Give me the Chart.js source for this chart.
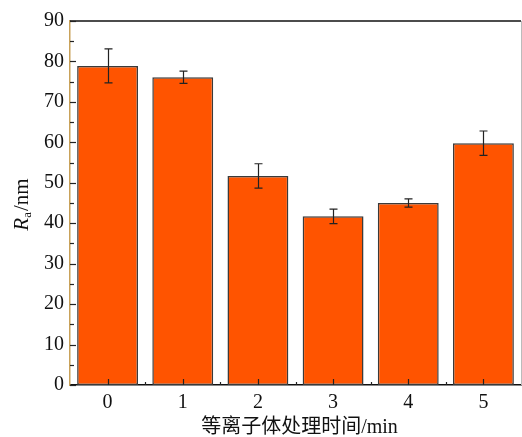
<!DOCTYPE html>
<html>
<head>
<meta charset="utf-8">
<script src="https://cdn.jsdelivr.net/npm/chart.js@4/dist/chart.umd.min.js"></script>
<style>
  html, body { margin: 0; padding: 0; background: #fff; }
  #wrap { width: 522px; height: 437px; }
</style>
</head>
<body>
<div id="wrap"><canvas id="chartRa" width="522" height="437"></canvas></div>
<script>
  var categories = ['0', '1', '2', '3', '4', '5'];
  var raValues = [78.9, 76.1, 51.7, 41.7, 45.0, 59.8];
  var raErrors = [4.2, 1.5, 3.0, 1.8, 1.0, 3.0];
  var yMin = 0, yMax = 90, yStep = 10;

  var serif = "'Liberation Serif', 'Times New Roman', 'Noto Sans CJK SC', serif";

  /* inward ticks, frame, error bars and titles */
  var decorPlugin = {
    id: 'decor',
    afterDatasetsDraw: function(chart) {
      var ctx = chart.ctx;
      var area = chart.chartArea;
      var ys = chart.scales.y;
      var meta = chart.getDatasetMeta(0);

      /* error bars */
      ctx.save();
      ctx.strokeStyle = '#222';
      ctx.lineWidth = 1.2;
      meta.data.forEach(function(bar, i) {
        var x = Math.round(bar.x) + 0.5;
        var top = ys.getPixelForValue(raValues[i] + raErrors[i]);
        var bot = ys.getPixelForValue(raValues[i] - raErrors[i]);
        ctx.beginPath();
        ctx.moveTo(x, top); ctx.lineTo(x, bot);
        ctx.moveTo(x - 4, top); ctx.lineTo(x + 4, top);
        ctx.moveTo(x - 4, bot); ctx.lineTo(x + 4, bot);
        ctx.stroke();
      });
      ctx.restore();

      /* frame: top black, right light gray */
      ctx.save();
      ctx.lineWidth = 1.5;
      ctx.strokeStyle = '#111';
      ctx.beginPath();
      ctx.moveTo(area.left, area.top); ctx.lineTo(area.right, area.top);
      ctx.stroke();
      ctx.strokeStyle = '#bbb';
      ctx.lineWidth = 1;
      ctx.beginPath();
      ctx.moveTo(area.right + 0.5, area.top); ctx.lineTo(area.right + 0.5, area.bottom);
      ctx.stroke();

      /* y ticks, inward */
      ctx.strokeStyle = '#222';
      ctx.lineWidth = 1.2;
      for (var v = yMin; v <= yMax; v += yStep / 2) {
        var y = Math.round(ys.getPixelForValue(v)) + 0.5;
        var len = (v % yStep === 0) ? 6 : 4;
        ctx.beginPath();
        ctx.moveTo(area.left, y); ctx.lineTo(area.left + len, y);
        ctx.stroke();
      }

      /* x ticks, inward */
      meta.data.forEach(function(bar, i) {
        var x = Math.round(bar.x) + 0.5;
        ctx.beginPath();
        ctx.moveTo(x, area.bottom); ctx.lineTo(x, area.bottom - 6);
        ctx.stroke();
        if (i < meta.data.length - 1) {
          var xm = Math.round((bar.x + meta.data[i + 1].x) / 2) + 0.5;
          ctx.beginPath();
          ctx.moveTo(xm, area.bottom); ctx.lineTo(xm, area.bottom - 3);
          ctx.stroke();
        }
      });
      ctx.restore();

      /* x title */
      ctx.save();
      ctx.fillStyle = '#111';
      ctx.font = '20px ' + serif;
      ctx.textAlign = 'center';
      ctx.textBaseline = 'middle';
      ctx.fillText('等离子体处理时间/min', (area.left + area.right) / 2 + 4, 428);
      ctx.restore();

      /* y title: R (italic) a (subscript) /nm */
      ctx.save();
      ctx.translate(22, (area.top + area.bottom) / 2 + 2);
      ctx.rotate(-Math.PI / 2);
      ctx.fillStyle = '#111';
      ctx.textBaseline = 'middle';
      var fR = 'italic 21px ' + serif, fA = '13px ' + serif, fN = '21px ' + serif;
      ctx.font = fR; var wR = ctx.measureText('R').width;
      ctx.font = fA; var wA = ctx.measureText('a').width;
      ctx.font = fN; var wN = ctx.measureText('/nm').width;
      var x0 = -(wR + wA + wN) / 2;
      ctx.font = fR; ctx.fillText('R', x0, 0);
      ctx.font = fA; ctx.fillText('a', x0 + wR, 6);
      ctx.font = fN; ctx.fillText('/nm', x0 + wR + wA + 1, 0);
      ctx.restore();
    }
  };

  new Chart(document.getElementById('chartRa'), {
    type: 'bar',
    data: {
      labels: categories,
      datasets: [{
        data: raValues,
        backgroundColor: '#FF5400',
        borderColor: '#3a3a3a',
        borderWidth: 1.5,
        borderSkipped: false,
        barPercentage: 0.81,
        categoryPercentage: 1
      }]
    },
    options: {
      responsive: false,
      animation: false,
      layout: { padding: { top: 21, right: 1, left: 0, bottom: 0 } },
      plugins: {
        legend: { display: false },
        tooltip: { enabled: false }
      },
      scales: {
        x: {
          offset: true,
          grid: { display: false, drawTicks: false },
          border: { display: true, color: '#111', width: 1.5 },
          ticks: { color: '#111', padding: 6, font: { family: serif, size: 20 } },
          afterFit: function(s) { s.height = 52; }
        },
        y: {
          min: yMin,
          max: yMax,
          grid: { display: false, drawTicks: false },
          border: { display: true, color: '#C9A25A', width: 1.5 },
          ticks: { stepSize: yStep, color: '#111', padding: 6, font: { family: serif, size: 20 } },
          afterFit: function(s) { s.width = 70; }
        }
      }
    },
    plugins: [decorPlugin]
  });
</script>
</body>
</html>
